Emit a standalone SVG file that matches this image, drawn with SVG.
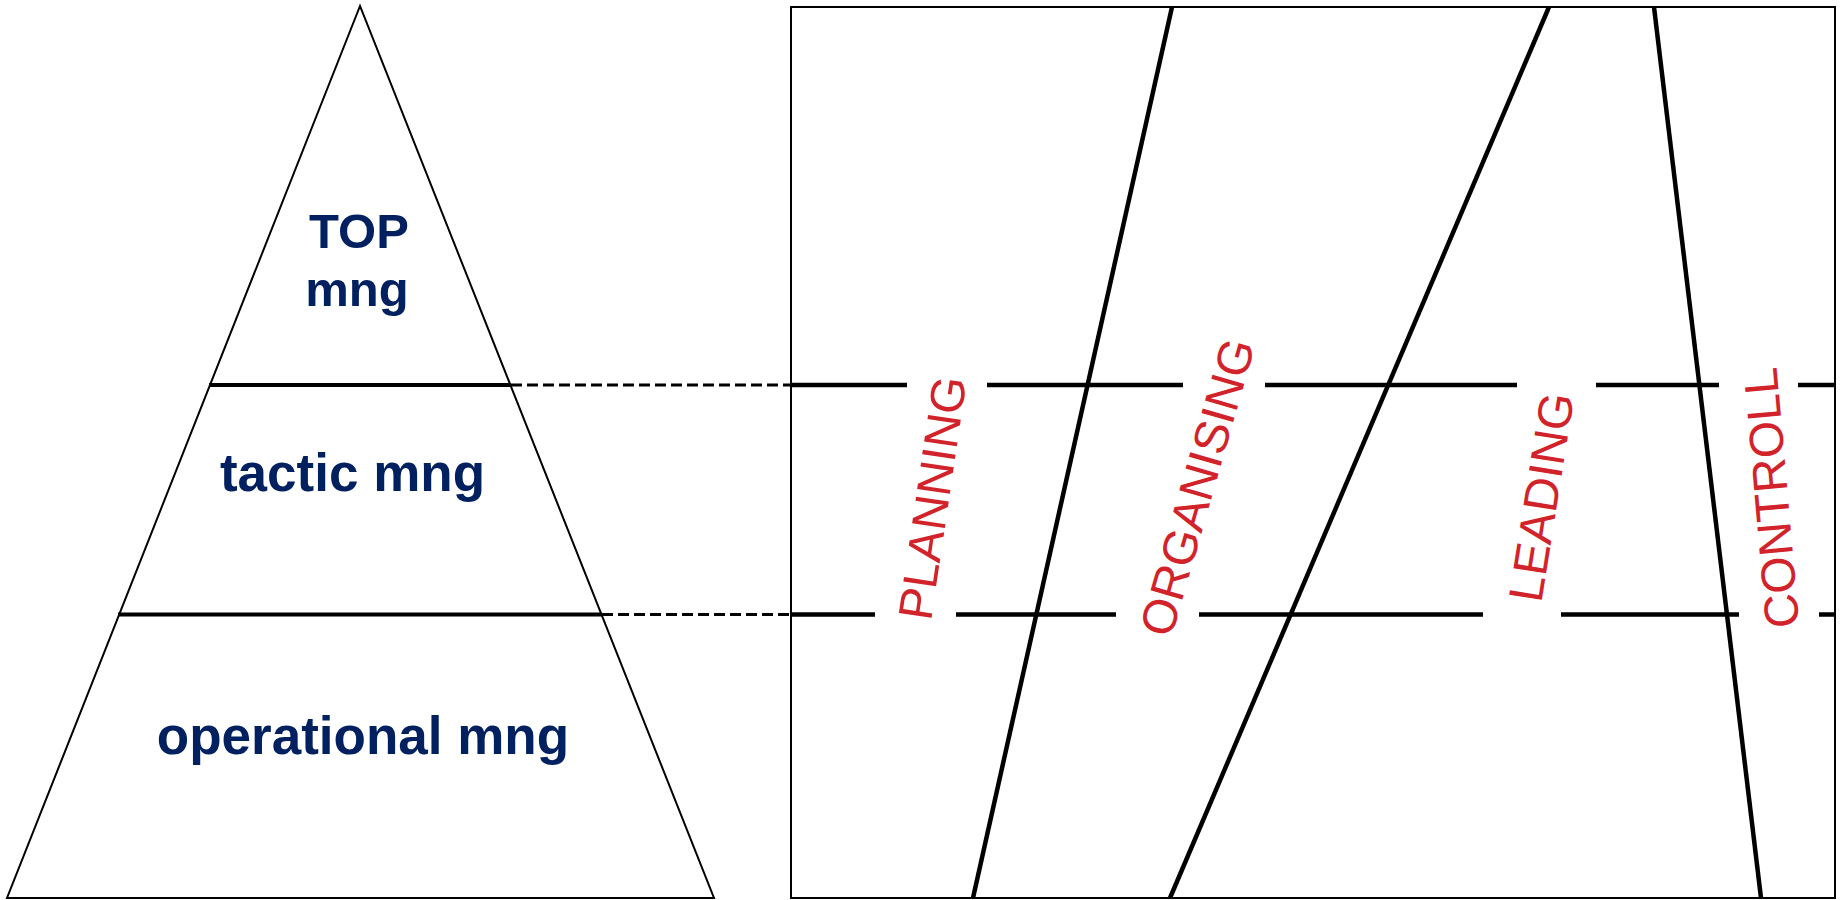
<svg xmlns="http://www.w3.org/2000/svg" width="1845" height="900" viewBox="0 0 1845 900">
<style>
.thin{fill:none;stroke:#000;stroke-width:2}
.level{stroke:#000;stroke-width:4;fill:none}
.conn{stroke:#000;stroke-width:3;stroke-dasharray:11 5;fill:none}
.band{stroke:#000;stroke-width:4.5;fill:none}
.slant{stroke:#000;stroke-width:4.5;fill:none}
.mng{font-family:"Liberation Sans",Arial,sans-serif;font-weight:bold;fill:#002060;text-anchor:middle}
.fn{font-family:"Liberation Sans",Arial,sans-serif;font-size:48px;fill:#d2232a;text-anchor:middle}
</style>
<rect width="1845" height="900" fill="#fff"/>
<g id="pyramid">
  <polygon class="thin" points="360,6 7,898 714,898"/>
  <line class="level" x1="209" y1="385" x2="511" y2="385"/>
  <line class="level" x1="118" y1="614.5" x2="602" y2="614.5"/>
</g>
<g id="top-mng">
  <text class="mng" font-size="49" x="359" y="248">TOP</text>
  <text class="mng" font-size="49" x="357" y="306">mng</text>
</g>
<g id="tactic-mng">
  <text class="mng" font-size="53" x="352.5" y="491">tactic mng</text>
</g>
<g id="operational-mng">
  <text class="mng" font-size="53" x="363" y="754">operational mng</text>
</g>
<g id="functions">
  <rect class="thin" x="791" y="7" width="1044" height="891"/>
  <line class="slant" x1="1172" y1="7" x2="973" y2="898"/>
  <line class="slant" x1="1549" y1="7" x2="1170" y2="898"/>
  <line class="slant" x1="1654" y1="7" x2="1761" y2="898"/>
  <path class="band" d="M792 385H907M987 385H1183M1265 385H1517M1596 385H1719M1798 385H1835"/>
  <path class="band" d="M792 614.5H875M956 614.5H1116M1199 614.5H1483M1561 614.5H1739M1819 614.5H1835"/>
</g>
<g id="planning"><text class="fn" transform="translate(932,498) rotate(-81.6)" dy="17">PLANNING</text></g>
<g id="organising"><text class="fn" transform="translate(1197,487) rotate(-74)" dy="17">ORGANISING</text></g>
<g id="leading"><text class="fn" transform="translate(1541,497) rotate(-81)" dy="17">LEADING</text></g>
<g id="controll"><text class="fn" transform="translate(1771,498) rotate(-95)" dy="17">CONTROLL</text></g>
<g id="connectors">
  <line class="conn" x1="511" y1="385" x2="791" y2="385"/>
  <line class="conn" x1="602" y1="614.5" x2="791" y2="614.5"/>
</g>
</svg>
